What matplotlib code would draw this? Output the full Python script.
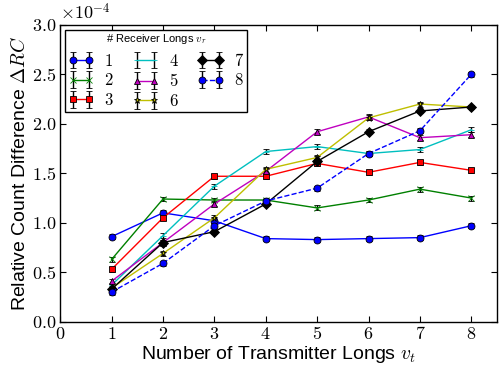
import matplotlib
matplotlib.use("Agg")
import matplotlib.pyplot as plt
from matplotlib.ticker import FuncFormatter, MultipleLocator

plt.rcParams["mathtext.fontset"] = "cm"
plt.rcParams["font.family"] = ["Liberation Sans", "DejaVu Sans"]
plt.rcParams["axes.formatter.use_mathtext"] = True

transmitters = [1, 2, 3, 4, 5, 6, 7, 8]
receiver_labels = ["1", "2", "3", "4", "5", "6", "7", "8"]

# relative count difference, units of 1e-4
rc_1 = [0.86, 1.10, 1.02, 0.84, 0.83, 0.84, 0.85, 0.97]
rc_2 = [0.63, 1.24, 1.23, 1.23, 1.15, 1.23, 1.34, 1.25]
rc_3 = [0.53, 1.05, 1.47, 1.47, 1.60, 1.51, 1.61, 1.53]
rc_4 = [0.37, 0.87, 1.37, 1.72, 1.77, 1.70, 1.74, 1.94]
rc_5 = [0.41, 0.80, 1.19, 1.52, 1.92, 2.07, 1.86, 1.89]
rc_6 = [0.34, 0.69, 1.05, 1.54, 1.66, 2.06, 2.20, 2.17]
rc_7 = [0.33, 0.80, 0.91, 1.19, 1.62, 1.92, 2.13, 2.17]
rc_8 = [0.30, 0.59, 0.97, 1.22, 1.35, 1.70, 1.93, 2.50]
rc_err = [0.025, 0.025, 0.025, 0.025, 0.025, 0.025, 0.025, 0.025]

series = [rc_1, rc_2, rc_3, rc_4, rc_5, rc_6, rc_7, rc_8]
colors = ["b", "g", "r", "c", "m", "y", "k", "b"]
markers = ["o", "x", "s", "_", "^", "*", "D", "o"]
styles = ["-", "-", "-", "-", "-", "-", "-", "--"]

fig = plt.figure(figsize=(5.02, 3.66), dpi=100)
ax = fig.add_axes([0.12, 0.121, 0.87, 0.811])

for vals, lab, c, m, ls in zip(series, receiver_labels, colors, markers, styles):
    y = [v * 1e-4 for v in vals]
    e = [v * 1e-4 for v in rc_err]
    ax.errorbar(transmitters, y, yerr=e, color=c, ls=ls, lw=1.0, marker=m,
                ms=5, mfc=c, mec="k" if m not in ("x", "_") else c, mew=0.6,
                ecolor="k", elinewidth=1.0, capsize=2.5, capthick=1.0,
                label="$%s$" % lab)

ax.set_xlim(0, 8.5)
ax.set_ylim(0, 3e-4)
ax.xaxis.set_major_locator(MultipleLocator(1))
ax.yaxis.set_major_locator(MultipleLocator(0.5e-4))
ax.xaxis.set_major_formatter(FuncFormatter(lambda v, p: "$%d$" % v))
ax.yaxis.set_major_formatter(FuncFormatter(lambda v, p: "$%.1f$" % (v * 1e4)))
ax.text(0.0, 1.005, r"$\times10^{-4}$", transform=ax.transAxes, fontsize=13,
        ha="left", va="bottom")
ax.tick_params(direction="in", top=True, right=True, labelsize=13, length=4, pad=3)
for sp in ax.spines.values():
    sp.set_linewidth(1.0)

ax.set_xlabel(r"Number of Transmitter Longs $v_t$", fontsize=14, labelpad=1)
ax.set_ylabel(r"Relative Count Difference $\Delta RC$", fontsize=14, labelpad=2)

leg = ax.legend(loc="upper left", ncol=3, numpoints=2, fontsize=12,
                title=r"# Receiver Longs $v_r$", title_fontsize=8,
                fancybox=False, edgecolor="k", framealpha=1,
                handlelength=1.6, handletextpad=0.6, columnspacing=1.1,
                labelspacing=0.22, borderaxespad=0.3, borderpad=0.15)
leg._legend_box.sep = 3.9  # a bit more room under the title
leg.get_frame().set_linewidth(1.0)

fig.savefig("out.png", dpi=100)
